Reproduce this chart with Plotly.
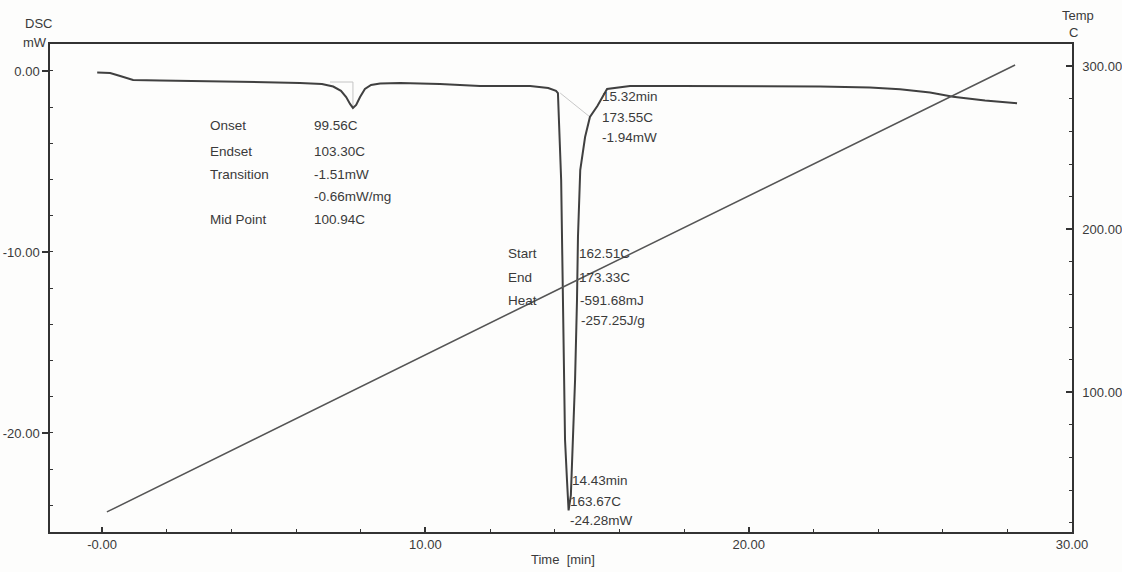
import plotly.graph_objects as go

# DSC heat-flow trace (time in min, heat flow in mW)
time_min = [-0.15, 0.25, 0.56, 0.96, 1.79, 3.03, 4.58, 6.12, 6.80, 7.15, 7.39, 7.55,
            7.67, 7.76, 7.86, 7.98, 8.13, 8.32, 8.60, 9.22, 10.45, 11.69, 13.24,
            13.80, 14.04, 14.10, 14.20, 14.23, 14.26, 14.32, 14.38, 14.43, 14.50,
            14.57, 14.63, 14.69, 14.72, 14.79, 14.94, 15.09, 15.32, 15.62, 16.33,
            17.88, 20.04, 22.21, 23.75, 24.68, 25.61, 26.32, 27.31, 28.30]
dsc_mw = [-0.09, -0.11, -0.28, -0.50, -0.52, -0.55, -0.61, -0.66, -0.72, -0.86, -1.10, -1.44,
          -1.82, -2.04, -1.88, -1.44, -0.99, -0.77, -0.69, -0.66, -0.72, -0.83, -0.83,
          -0.94, -1.10, -1.22, -6.02, -9.17, -14.31, -20.39, -22.60, -24.28, -23.43,
          -20.39, -17.07, -12.65, -9.17, -5.47, -3.65, -2.54, -1.94, -0.99, -0.83,
          -0.83, -0.83, -0.86, -0.91, -1.01, -1.19, -1.42, -1.63, -1.78]

# Programmed temperature ramp (C)
temp_time = [0.15, 14.26, 28.24]
temp_c = [26.6, 164.6, 300.8]

# Integration baselines drawn in light grey
glass_base_t = [7.05, 7.76, 7.76]
glass_base_v = [-0.61, -0.61, -2.04]
melt_base_t = [14.17, 15.09]
melt_base_v = [-1.22, -2.54]

x_ticks = [0, 10, 20, 30]
x_ticktext = ["-0.00", "10.00", "20.00", "30.00"]
y_ticks = [0, -10, -20]
y_ticktext = ["0.00", "-10.00", "-20.00"]
t_ticks = [100, 200, 300]
t_ticktext = ["100.00", "200.00", "300.00"]

FONT = "Liberation Sans, Arial, sans-serif"
INK = "#3a3a3a"
AX = "#333333"

fig = go.Figure()
fig.add_trace(go.Scatter(x=glass_base_t, y=glass_base_v, mode="lines",
                         line=dict(color="#c4c4c4", width=1), hoverinfo="skip"))
fig.add_trace(go.Scatter(x=melt_base_t, y=melt_base_v, mode="lines",
                         line=dict(color="#c8c8c8", width=1), hoverinfo="skip"))
fig.add_trace(go.Scatter(x=time_min, y=dsc_mw, mode="lines",
                         line=dict(color="#404040", width=2)))
fig.add_trace(go.Scatter(x=temp_time, y=temp_c, mode="lines", yaxis="y2",
                         line=dict(color="#555555", width=1.5)))

# plot area in pixels: x 50..1072, y 44..532
L, R, T, B = 50, 1072, 44, 532


def px(x):
    return (x - L) / (R - L)


def py(y):
    return (B - y) / (B - T)


notes = [
    ("Onset", 208, 125), ("99.56C", 312, 125),
    ("Endset", 208, 151), ("103.30C", 312, 151),
    ("Transition", 208, 174), ("-1.51mW", 312, 174),
    ("-0.66mW/mg", 312, 196),
    ("Mid Point", 208, 219), ("100.94C", 312, 219),
    ("15.32min", 600, 96), ("173.55C", 600, 117), ("-1.94mW", 600, 137),
    ("Start", 506, 253), ("162.51C", 577, 253),
    ("End", 506, 277), ("173.33C", 577, 277),
    ("Heat", 506, 300), ("-591.68mJ", 578, 300),
    ("-257.25J/g", 579, 320),
    ("14.43min", 570, 480), ("163.67C", 568, 501), ("-24.28mW", 568, 520),
]
annotations = []
for text, x, y in notes:
    annotations.append(dict(text=text, x=px(x), y=py(y), xref="paper", yref="paper",
                            xanchor="left", yanchor="middle", showarrow=False,
                            font=dict(family=FONT, size=13.5, color=INK)))

titles = [("DSC", 38, 23), ("mW", 35, 42), ("Temp", 1078, 15), ("C", 1073, 32),
          ("Time  [min]", 563, 559)]
for text, x, y in titles:
    annotations.append(dict(text=text, x=px(x), y=py(y), xref="paper", yref="paper",
                            xanchor="center", yanchor="middle", showarrow=False,
                            font=dict(family=FONT, size=13, color=INK)))

fig.update_layout(
    width=1122, height=572,
    margin=dict(l=L, r=1122 - R, t=T, b=572 - B),
    paper_bgcolor="#fdfdfc", plot_bgcolor="#fdfdfc",
    showlegend=False,
    font=dict(family=FONT, size=13, color=INK),
    annotations=annotations,
    xaxis=dict(range=[-1.61, 30], tickvals=x_ticks, ticktext=x_ticktext,
               automargin=False,
               showgrid=False, zeroline=False, showline=True, linecolor=AX,
               linewidth=1.5, mirror=True, ticks="inside", ticklen=5,
               tickcolor=AX, tickwidth=1.5,
               minor=dict(tick0=0, dtick=2, ticks="inside", ticklen=3,
                          tickcolor=AX, tickwidth=1),
               tickfont=dict(family=FONT, size=13, color=INK)),
    yaxis=dict(range=[-25.47, 1.49], tickvals=y_ticks, ticktext=y_ticktext,
               automargin=False,
               showgrid=False, zeroline=False, showline=True, linecolor=AX,
               linewidth=1.5, ticks="outside", ticklen=6, tickcolor=AX,
               tickwidth=1.5,
               minor=dict(tick0=0, dtick=2, ticks="inside", ticklen=3,
                          tickcolor=AX, tickwidth=1),
               tickfont=dict(family=FONT, size=13, color=INK)),
    yaxis2=dict(range=[14.3, 313.7], overlaying="y", side="right",
                tickvals=t_ticks, ticktext=t_ticktext, automargin=False,
                showgrid=False, zeroline=False, showline=True, linecolor=AX,
                linewidth=1.5, ticks="inside", ticklen=6, tickcolor=AX,
                tickwidth=1.5, ticklabelstandoff=6,
                minor=dict(tick0=0, dtick=20, ticks="inside", ticklen=3,
                           tickcolor=AX, tickwidth=1),
                tickfont=dict(family=FONT, size=13, color=INK)),
)

fig.write_html("out.html")
